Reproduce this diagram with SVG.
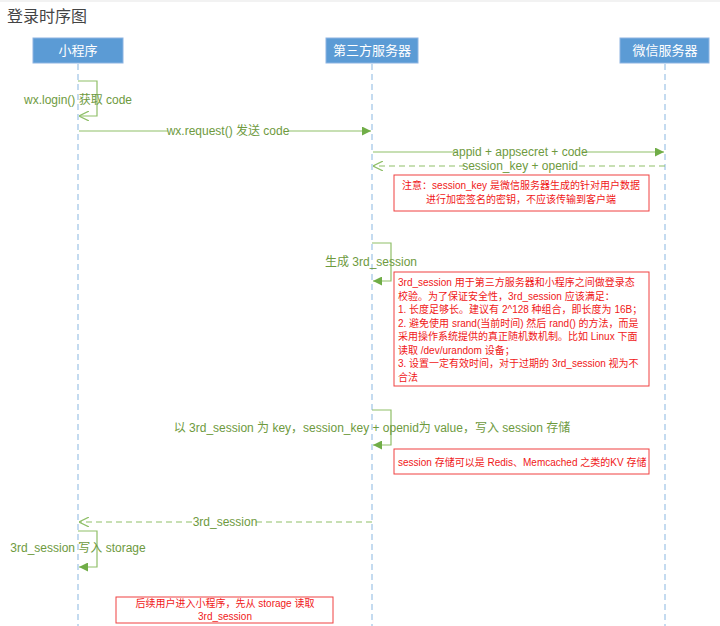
<svg xmlns="http://www.w3.org/2000/svg" width="720" height="626" viewBox="0 0 720 626">
<style>
text{font-family:"Liberation Sans","Noto Sans CJK SC",sans-serif}
.head rect{fill:#5b9bd5;stroke:#8db4e2;stroke-width:1}
.head text{fill:#fff;font-size:13px;text-anchor:middle}
.life{stroke:#9dc3e6;stroke-width:1.2;stroke-dasharray:6 4;fill:none}
.msg{stroke:#8fbf68;stroke-width:1.2;fill:none}
.ret{stroke:#8fbf68;stroke-width:1.2;fill:none;stroke-dasharray:6 4}
.lbl{fill:#6e9a3e;font-size:12px;text-anchor:middle}
.bg{fill:#fff}
.note rect{fill:#fff;stroke:#f04040;stroke-width:1}
.note text{fill:#f01818;font-size:10px}
</style>
<defs>
<marker id="af" viewBox="0 0 10 10" refX="10" refY="5" markerWidth="9" markerHeight="9" markerUnits="userSpaceOnUse" orient="auto">
<path d="M0,0 L10,5 L0,10 Z" fill="#70ad47"/>
</marker>
<marker id="ao" viewBox="0 0 10 10" refX="10" refY="5" markerWidth="10" markerHeight="10" markerUnits="userSpaceOnUse" orient="auto">
<path d="M0,0 L10,5 L0,10" fill="none" stroke="#8fbf68" stroke-width="1.2"/>
</marker>
</defs>
<rect x="0" y="0" width="720" height="2" fill="#f2f2f2"/>
<text x="7" y="22" font-size="16" fill="#444">登录时序图</text>

<g id="miniprogram" class="head">
<rect x="33" y="38" width="90" height="25"/>
<text x="78" y="55">小程序</text>
</g>
<g id="server" class="head">
<rect x="326" y="38" width="92" height="25"/>
<text x="372" y="55">第三方服务器</text>
</g>
<g id="wechat" class="head">
<rect x="620" y="38" width="89" height="25"/>
<text x="665" y="55">微信服务器</text>
</g>

<g id="lifelines">
<line class="life" x1="78" y1="64" x2="78" y2="626"/>
<line class="life" x1="372" y1="64" x2="372" y2="626"/>
<line class="life" x1="665" y1="64" x2="665" y2="626"/>
</g>

<g id="connectors">
<path class="msg" d="M78,81 H97 V116 H79" marker-end="url(#ao)"/>
<text class="lbl" x="78" y="104">wx.login() 获取 code</text>

<line class="msg" x1="79" y1="131" x2="371" y2="131" marker-end="url(#af)"/>
<rect class="bg" x="168" y="124" width="120" height="14"/>
<text class="lbl" x="228" y="135">wx.request() 发送 code</text>

<line class="msg" x1="373" y1="152" x2="664" y2="152" marker-end="url(#af)"/>
<rect class="bg" x="457" y="145" width="126" height="14"/>
<text class="lbl" x="520" y="156">appid + appsecret + code</text>

<line class="ret" x1="665" y1="166" x2="373" y2="166" marker-end="url(#ao)"/>
<rect class="bg" x="465" y="159.5" width="110" height="13"/>
<text class="lbl" x="520" y="170">session_key + openid</text>

<path class="msg" d="M372,243 H391 V281 H373" marker-end="url(#af)"/>
<text class="lbl" x="371" y="266" font-size="13">生成 3rd_session</text>

<path class="msg" d="M372,410 H391 V445 H373" marker-end="url(#af)"/>
<text class="lbl" x="372" y="432" font-size="12.75">以 3rd_session 为 key，session_key + openid为 value，写入 session 存储</text>

<line class="ret" x1="372" y1="522" x2="79" y2="522" marker-end="url(#ao)"/>
<rect class="bg" x="194" y="515" width="62" height="14"/>
<text class="lbl" x="225" y="526">3rd_session</text>

<path class="msg" d="M78,531 H97 V567 H79" marker-end="url(#af)"/>
<text class="lbl" x="78" y="552">3rd_session 写入 storage</text>
</g>

<g id="note1" class="note">
<rect x="394" y="175" width="255" height="36"/>
<text x="521" y="189" text-anchor="middle">注意：session_key 是微信服务器生成的针对用户数据</text>
<text x="521" y="203" text-anchor="middle">进行加密签名的密钥，不应该传输到客户端</text>
</g>

<g id="note2" class="note">
<rect x="394" y="272" width="255" height="114"/>
<text x="398" y="286">3rd_session 用于第三方服务器和小程序之间做登录态</text>
<text x="398" y="299.5">校验。为了保证安全性，3rd_session 应该满足：</text>
<text x="398" y="313">1. 长度足够长。建议有 2^128 种组合，即长度为 16B；</text>
<text x="398" y="326.5">2. 避免使用 srand(当前时间) 然后 rand() 的方法，而是</text>
<text x="398" y="340">采用操作系统提供的真正随机数机制。比如 Linux 下面</text>
<text x="398" y="353.5">读取 /dev/urandom 设备；</text>
<text x="398" y="367">3. 设置一定有效时间，对于过期的 3rd_session 视为不</text>
<text x="398" y="380.5">合法</text>
</g>

<g id="note3" class="note">
<rect x="394" y="449" width="255" height="25"/>
<text x="398" y="465.5">session 存储可以是 Redis、Memcached 之类的KV 存储</text>
</g>

<g id="note4" class="note">
<rect x="116" y="597" width="217" height="26"/>
<text x="225" y="607" text-anchor="middle">后续用户进入小程序，先从 storage 读取</text>
<text x="225" y="620" text-anchor="middle">3rd_session</text>
</g>
</svg>
